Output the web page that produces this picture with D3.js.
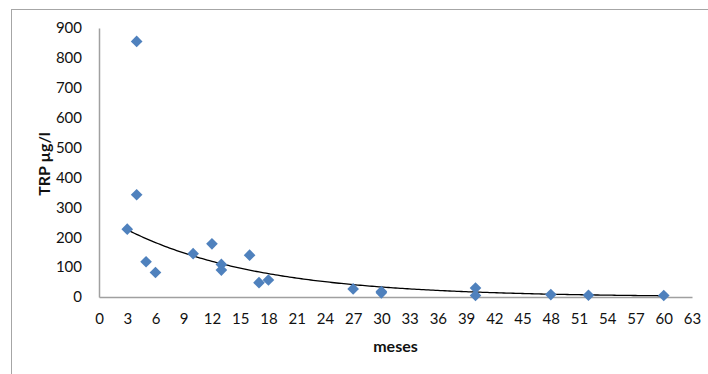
<!DOCTYPE html>
<html>
<head>
<meta charset="utf-8">
<script src="https://cdn.jsdelivr.net/npm/d3@7"></script>
<style>
  html, body { margin: 0; padding: 0; background: #fff; }
  svg { display: block; }
  text { font-family: Lato, "Open Sans", sans-serif; fill: #111; }
</style>
</head>
<body>
<svg id="chart" width="708" height="374"></svg>
<script>
// Months since treatment and the measured TRP concentration (µg/l)
const months = [3, 4, 4, 5, 6, 10, 12, 13, 13, 16, 17, 18, 27, 30, 30, 40, 40, 48, 52, 60];
const trp    = [227, 855, 342, 118, 82, 145, 178, 109, 90, 140, 48, 57, 27, 18, 14, 30, 5, 8, 6, 5];

// Exponential trend y = a·e^(b·x)
const trendA = 278;
const trendB = -0.0705;

const xTicks = d3.range(0, 64, 3);
const yTicks = d3.range(0, 901, 100);

const svg = d3.select("#chart");

// chart frame
svg.append("rect")
  .attr("x", 11.5).attr("y", 9.5)
  .attr("width", 720).attr("height", 400)
  .attr("fill", "none")
  .attr("stroke", "#a6a6a6")
  .attr("stroke-width", 1);

const x = d3.scaleLinear().domain([0, 63]).range([99, 692]);
const y = d3.scaleLinear().domain([0, 900]).range([297, 28]);

const axisColor = "#a0a0a0";

const gx = svg.append("g")
  .attr("transform", `translate(0,${y(0)})`)
  .call(d3.axisBottom(x).tickValues(xTicks).tickSize(0).tickSizeOuter(0).tickPadding(16));
gx.select(".domain").attr("stroke", axisColor).attr("stroke-width", 1.5);
gx.selectAll("text").style("font-size", "15px").style("font-family", "Lato, sans-serif").attr("fill", "#111");

const gy = svg.append("g")
  .attr("transform", `translate(${x(0)},0)`)
  .call(d3.axisLeft(y).tickValues(yTicks).tickSize(0).tickSizeOuter(0).tickPadding(17));
gy.select(".domain").attr("stroke", axisColor).attr("stroke-width", 1.5);
gy.selectAll("text").style("font-size", "15px").style("font-family", "Lato, sans-serif").attr("fill", "#111");

// trend curve over the observed range
const xMin = d3.min(months), xMax = d3.max(months);
const trendPts = d3.range(xMin, xMax + 0.001, 0.25).map(m => [m, trendA * Math.exp(trendB * m)]);
svg.append("path")
  .datum(trendPts)
  .attr("fill", "none")
  .attr("stroke", "#000")
  .attr("stroke-width", 1.3)
  .attr("d", d3.line().x(d => x(d[0])).y(d => y(d[1])));

// diamond markers
const diamond = d3.symbol().type(d3.symbolSquare).size(68);
svg.append("g")
  .selectAll("path")
  .data(months.map((m, i) => ({ m, v: trp[i] })))
  .join("path")
  .attr("d", diamond)
  .attr("transform", d => `translate(${x(d.m)},${y(d.v)}) rotate(45)`)
  .attr("fill", "#4f81bd");

// axis titles
svg.append("text")
  .attr("x", (x(0) + x(63)) / 2)
  .attr("y", 352)
  .attr("text-anchor", "middle")
  .style("font-size", "16px")
  .style("font-weight", "bold")
  .text("meses");

svg.append("text")
  .attr("transform", "translate(50,164) rotate(-90)")
  .attr("text-anchor", "middle")
  .style("font-size", "16px")
  .style("font-weight", "bold")
  .text("TRP µg/l");
</script>
</body>
</html>
